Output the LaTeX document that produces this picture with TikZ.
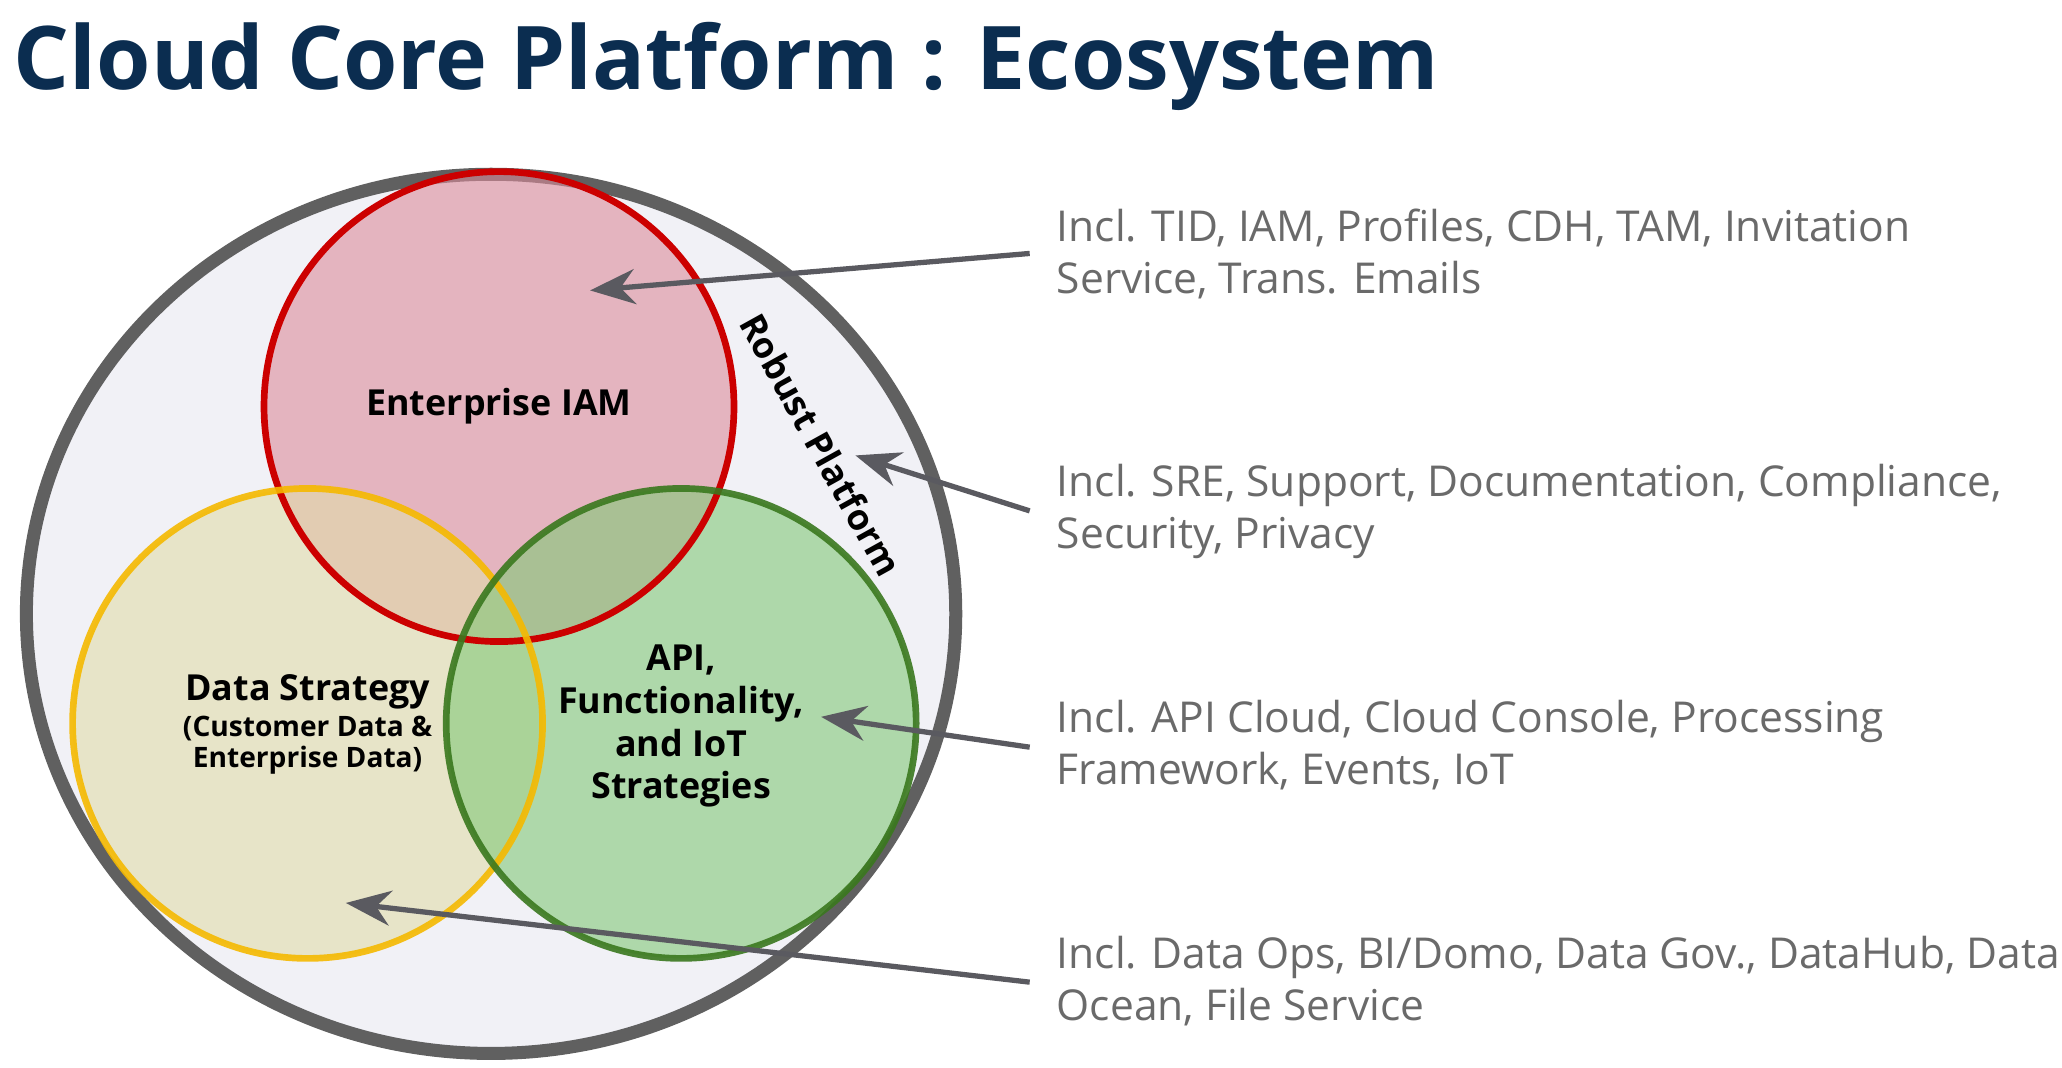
\documentclass[tikz,border=0pt]{standalone}
\usepackage{fontspec}
\setmainfont{Open Sans}
\usetikzlibrary{arrows.meta}
\definecolor{TitleBlue}{HTML}{0B2D50}
\definecolor{NoteGray}{HTML}{6A6A6A}
\definecolor{ArrowGray}{HTML}{5A5A60}
\definecolor{PlatFill}{RGB}{241,241,246}
\definecolor{IamFill}{RGB}{220,140,155}
\definecolor{DataFill}{RGB}{225,220,170}
\definecolor{ApiFill}{RGB}{130,200,120}
\definecolor{IamLine}{RGB}{204,0,0}
\definecolor{DataLine}{RGB}{245,185,0}
\definecolor{ApiLine}{RGB}{58,120,30}
\tikzset{
  circ/.style={line width=1.9pt},
  lbl/.style={font=\bfseries\fontsize{10.2}{12}\selectfont,align=center},
  note/.style={anchor=north west,text=NoteGray,align=left,inner sep=0pt,font=\fontsize{12.1}{14.7}\selectfont},
  ptr/.style={ArrowGray,line width=1.5pt,-{Stealth[length=4.5mm,width=3.5mm]}}
}
\begin{document}
\begin{tikzpicture}[x=0.0132cm,y=-0.0132cm]
  \useasboundingbox (0,0) rectangle (1562,809);
  \node[anchor=base west,inner sep=0pt,text=TitleBlue,font=\bfseries\fontsize{25}{28}\selectfont] (title) at (10,68) {Cloud Core Platform : Ecosystem};

  % platform
  \draw[line width=3.7pt,gray!75!black,fill=PlatFill] (372,465) ellipse [x radius=352,y radius=333];
  \begin{scope}[fill opacity=0.6]
    \fill[IamFill] (378,308) circle (178);
    \fill[DataFill] (233,548) circle (178);
    \fill[ApiFill] (516,548) circle (178);
  \end{scope}
  \draw[circ,IamLine] (378,308) circle (178);
  \draw[circ,DataLine,opacity=0.9] (233,548) circle (178);
  \draw[circ,ApiLine,opacity=0.9] (516,548) circle (178);

  \node[lbl,align=center] (iam) at (378,308) {Enterprise IAM};
  \node[lbl,align=center] (data) at (233,549) {Data Strategy\\[-2pt]{\fontsize{8}{9.5}\selectfont (Customer Data \&}\\[-3pt]{\fontsize{8}{9.5}\selectfont Enterprise Data)}};
  \node[lbl,align=center,font=\bfseries\fontsize{10.2}{12.2}\selectfont] (api) at (516,550) {API,\\Functionality,\\and IoT\\Strategies};
  \node[lbl,rotate=-61] (robust) at (622,337) {Robust Platform};

  % notes
  \node[note] (n1) at (800,158) {Incl. TID, IAM, Profiles, CDH, TAM, Invitation\\Service, Trans. Emails};
  \node[note] (n2) at (800,351) {Incl. SRE, Support, Documentation, Compliance,\\Security, Privacy};
  \node[note] (n3) at (800,530) {Incl. API Cloud, Cloud Console, Processing\\Framework, Events, IoT};
  \node[note] (n4) at (800,709) {Incl. Data Ops, BI/Domo, Data Gov., DataHub, Data\\Ocean, File Service};

  \coordinate (s1) at (780,192); \coordinate (e1) at (447,220);
  \coordinate (s2) at (780,387); \coordinate (e2) at (648,345);
  \coordinate (s3) at (780,566); \coordinate (e3) at (622,543);
  \coordinate (s4) at (780,744); \coordinate (e4) at (262,684);
  \foreach \i in {1,...,4} {
    \draw[ptr] (s\i) -- (e\i);
  }
\end{tikzpicture}
\end{document}
